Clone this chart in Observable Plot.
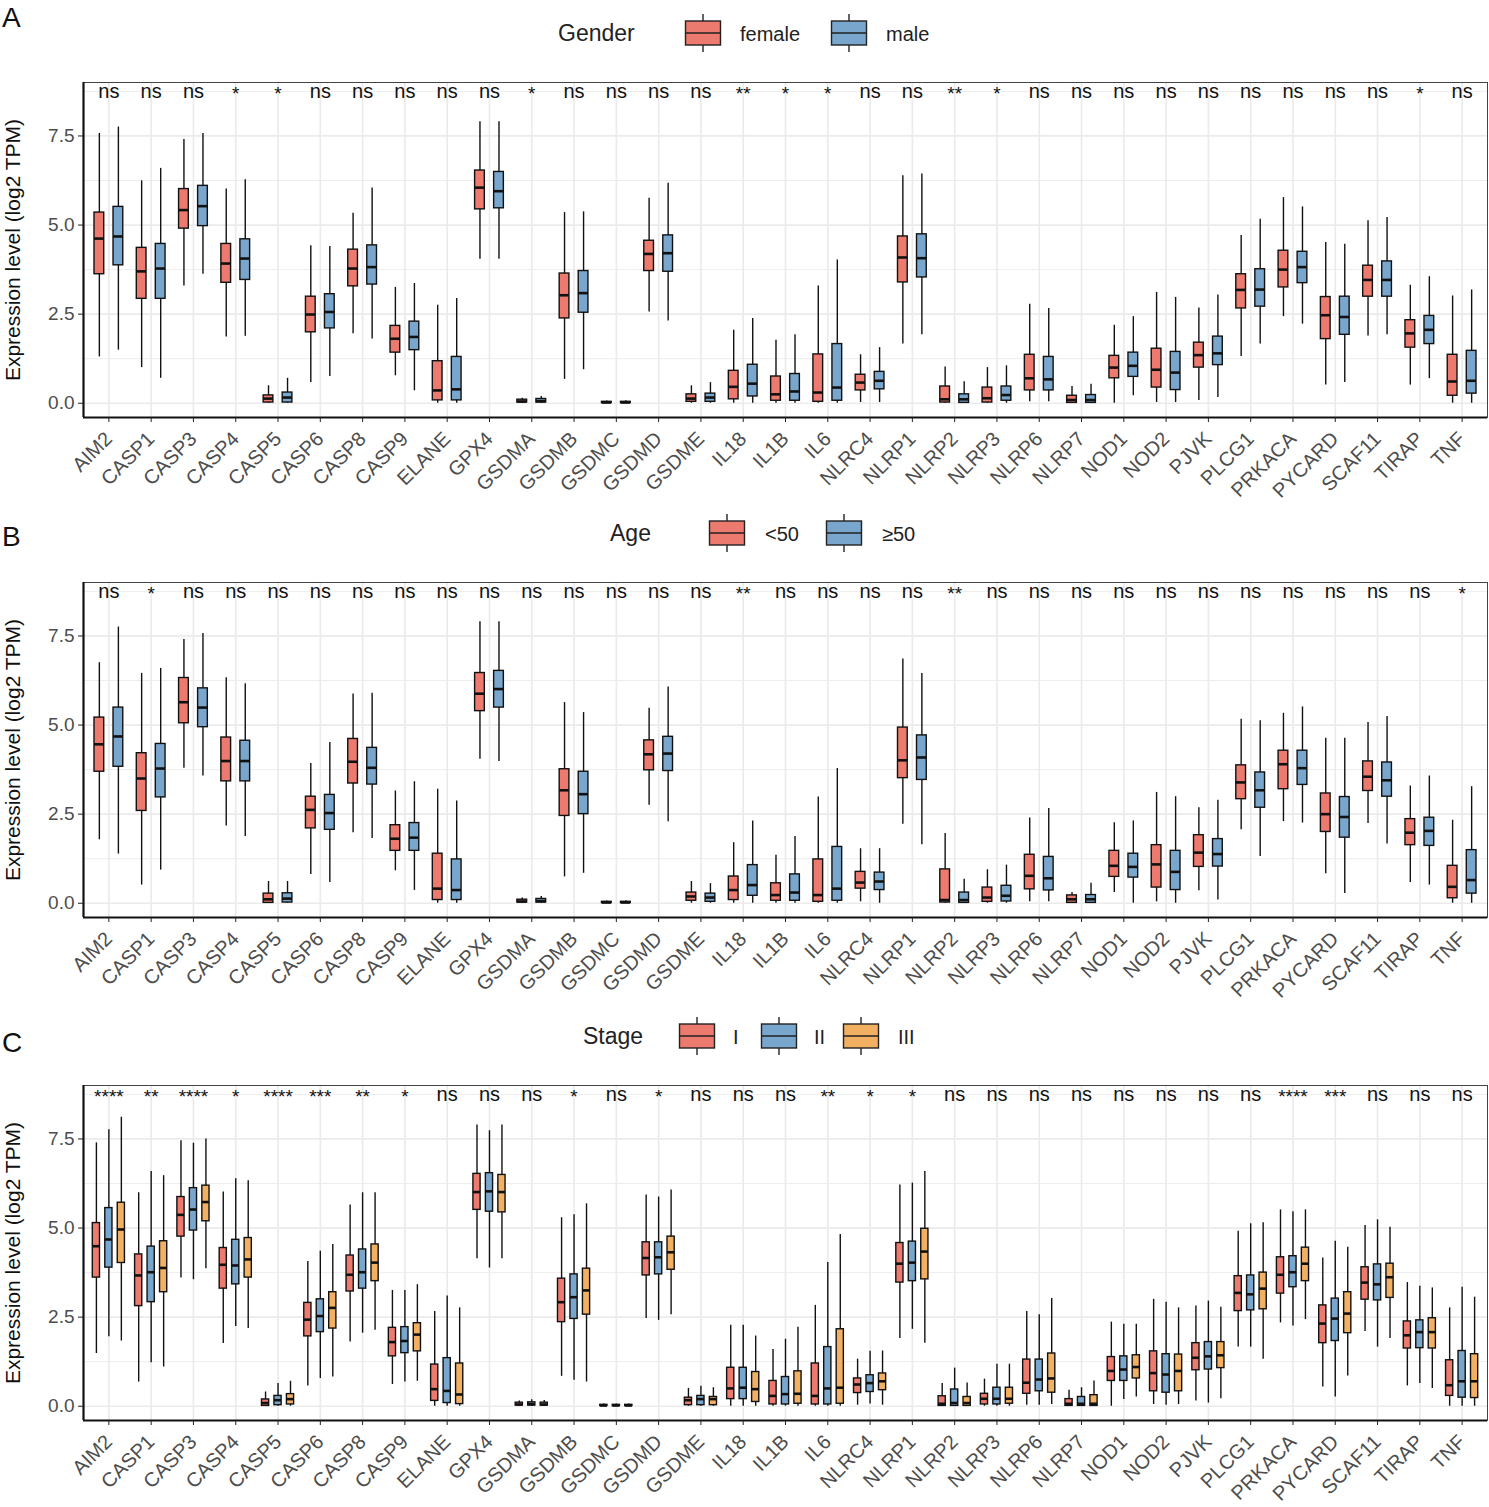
<!DOCTYPE html>
<html><head><meta charset="utf-8">
<script src="https://cdn.jsdelivr.net/npm/d3@7"></script>
<script src="https://cdn.jsdelivr.net/npm/@observablehq/plot@0.6"></script>
<style>
body{margin:0;background:#fff;font-family:"Liberation Sans",Arial,sans-serif;}
#root{position:relative;width:1489px;height:1507px;overflow:hidden;background:#fff}
.letter{position:absolute;left:2px;font-size:28px;line-height:30px;height:30px;color:#111}
.legtitle{position:absolute;font-size:23px;line-height:30px;height:30px;color:#222}
.leglab{position:absolute;font-size:20px;line-height:30px;height:30px;color:#222}
.legkey{position:absolute}
.plotwrap{position:absolute;left:0}
.plotwrap g[aria-label="x-axis tick label"],.plotwrap g[aria-label="y-axis tick label"]{fill:#4d4d4d}
.plotwrap g[aria-label="x-axis tick"],.plotwrap g[aria-label="y-axis tick"]{stroke:#222}
.plotwrap g[aria-label="y-axis label"]{font-size:21px;fill:#111}
</style>
</head><body><div id="root"></div>
<script>
const genes = ["AIM2","CASP1","CASP3","CASP4","CASP5","CASP6","CASP8","CASP9","ELANE","GPX4","GSDMA","GSDMB","GSDMC","GSDMD","GSDME","IL18","IL1B","IL6","NLRC4","NLRP1","NLRP2","NLRP3","NLRP6","NLRP7","NOD1","NOD2","PJVK","PLCG1","PRKACA","PYCARD","SCAF11","TIRAP","TNF"];

const sigGender = ["ns","ns","ns","*","*","ns","ns","ns","ns","ns","*","ns","ns","ns","ns","**","*","*","ns","ns","**","*","ns","ns","ns","ns","ns","ns","ns","ns","ns","*","ns"];
const sigAge = ["ns","*","ns","ns","ns","ns","ns","ns","ns","ns","ns","ns","ns","ns","ns","**","ns","ns","ns","ns","**","ns","ns","ns","ns","ns","ns","ns","ns","ns","ns","ns","*"];
const sigStage = ["****","**","****","*","****","***","**","*","ns","ns","ns","*","ns","*","ns","ns","ns","**","*","*","ns","ns","ns","ns","ns","ns","ns","ns","****","***","ns","ns","ns"];

// [lower whisker, Q1, median, Q3, upper whisker] per gene
const female = [[1.30,3.62,4.62,5.35,7.57],[1.00,2.93,3.70,4.36,6.24],[3.29,4.90,5.42,6.01,7.40],[1.86,3.38,3.92,4.47,6.01],[0,0.02,0.13,0.22,0.49],[0.58,1.99,2.49,2.99,4.42],[1.95,3.28,3.78,4.31,5.33],[0.77,1.42,1.81,2.17,3.25],[0,0.08,0.36,1.18,2.75],[4.04,5.44,6.05,6.53,7.90],[0,0.02,0.05,0.10,0.14],[0.67,2.38,3.03,3.64,5.35],[0,0.01,0.02,0.04,0.06],[2.56,3.71,4.19,4.56,5.75],[0,0.04,0.13,0.25,0.49],[0,0.11,0.46,0.91,2.05],[0,0.07,0.25,0.75,1.77],[0,0.04,0.30,1.37,3.29],[0.02,0.36,0.58,0.80,1.36],[1.66,3.39,4.09,4.68,6.38],[0,0.02,0.11,0.47,1.02],[0,0.02,0.14,0.44,1.00],[0.04,0.36,0.70,1.36,2.78],[0,0.01,0.09,0.21,0.47],[0,0.70,1.00,1.33,2.19],[0.02,0.44,0.94,1.53,3.11],[0.08,1.00,1.35,1.70,2.67],[1.31,2.66,3.18,3.62,4.71],[2.43,3.25,3.75,4.28,5.77],[0.51,1.80,2.47,2.98,4.51],[1.89,2.99,3.46,3.86,5.12],[0.51,1.56,1.96,2.33,3.31],[0,0.21,0.61,1.36,3.01]];
const male = [[1.49,3.87,4.68,5.51,7.75],[0.70,2.93,3.78,4.47,6.59],[3.62,4.97,5.53,6.10,7.57],[1.88,3.46,4.06,4.60,6.27],[0,0.02,0.16,0.30,0.70],[0.75,2.10,2.56,3.06,4.40],[1.80,3.33,3.82,4.43,6.04],[0.35,1.49,1.86,2.29,3.36],[0,0.08,0.39,1.30,2.94],[4.04,5.47,5.95,6.49,7.90],[0,0.02,0.06,0.12,0.19],[0.94,2.54,3.09,3.71,5.37],[0,0.01,0.02,0.04,0.07],[2.31,3.69,4.21,4.71,6.17],[0,0.04,0.16,0.27,0.58],[0,0.19,0.55,1.08,2.38],[0,0.07,0.33,0.82,1.92],[0,0.07,0.44,1.66,4.02],[0.02,0.39,0.63,0.88,1.56],[1.92,3.53,4.07,4.74,6.43],[0,0.01,0.11,0.25,0.60],[0,0.07,0.23,0.47,1.05],[0.04,0.36,0.67,1.30,2.66],[0,0.01,0.09,0.23,0.53],[0.21,0.74,1.05,1.42,2.43],[0.02,0.37,0.86,1.44,2.97],[0.16,1.07,1.40,1.87,3.04],[1.66,2.71,3.19,3.76,5.16],[2.22,3.37,3.82,4.25,5.51],[0.58,1.92,2.42,2.99,4.46],[1.92,2.99,3.46,3.98,5.21],[0.69,1.66,2.06,2.45,3.55],[0,0.27,0.63,1.47,3.18]];
const under50 = [[1.78,3.69,4.46,5.21,6.75],[0.51,2.59,3.50,4.21,6.45],[3.79,5.05,5.64,6.32,7.40],[2.17,3.42,3.99,4.65,6.33],[0,0.01,0.11,0.27,0.61],[0.81,2.10,2.62,2.99,3.92],[1.98,3.36,3.97,4.61,5.87],[0.91,1.47,1.81,2.19,3.15],[0,0.09,0.41,1.39,3.20],[4.04,5.39,5.88,6.46,7.90],[0,0.02,0.05,0.10,0.15],[0.74,2.45,3.17,3.76,5.63],[0,0.01,0.02,0.04,0.06],[2.75,3.73,4.18,4.57,5.47],[0,0.07,0.19,0.30,0.61],[0,0.09,0.37,0.75,1.70],[0,0.07,0.23,0.56,1.35],[0,0.04,0.23,1.23,2.98],[0.04,0.41,0.58,0.88,1.53],[2.22,3.51,4.01,4.93,6.85],[0,0.02,0.09,0.95,1.96],[0,0.04,0.16,0.44,0.94],[0.04,0.39,0.77,1.36,2.39],[0,0.01,0.11,0.22,0.30],[0.30,0.74,1.05,1.47,2.26],[0.04,0.44,1.09,1.63,3.11],[0.35,1.02,1.42,1.91,2.68],[2.06,2.92,3.39,3.87,5.16],[2.29,3.20,3.90,4.28,5.33],[0.83,2.00,2.50,3.08,4.63],[2.24,3.15,3.55,3.98,5.07],[0.58,1.63,1.98,2.36,3.29],[0,0.14,0.46,1.05,2.33]];
const over50 = [[1.38,3.83,4.68,5.49,7.75],[0.93,2.97,3.78,4.47,6.59],[3.57,4.94,5.49,6.03,7.57],[1.87,3.42,3.99,4.56,6.16],[0,0.02,0.13,0.28,0.61],[0.58,2.06,2.53,3.04,4.51],[1.82,3.33,3.80,4.36,5.89],[0.36,1.47,1.84,2.25,3.41],[0,0.09,0.37,1.23,2.87],[3.98,5.49,6.01,6.52,7.90],[0,0.02,0.06,0.12,0.19],[0.84,2.50,3.06,3.69,5.35],[0,0.01,0.02,0.04,0.07],[2.29,3.71,4.20,4.67,6.07],[0,0.04,0.16,0.27,0.55],[0,0.21,0.51,1.07,2.31],[0,0.07,0.30,0.81,1.87],[0,0.07,0.41,1.58,3.78],[0,0.37,0.61,0.86,1.53],[1.64,3.46,4.09,4.71,6.45],[0,0.01,0.09,0.30,0.67],[0,0.05,0.21,0.49,1.07],[0.04,0.36,0.70,1.30,2.66],[0,0.01,0.11,0.23,0.56],[0,0.72,1.02,1.39,2.31],[0,0.37,0.88,1.47,2.99],[0.09,1.03,1.38,1.80,2.89],[1.31,2.68,3.17,3.67,5.12],[2.25,3.32,3.79,4.28,5.51],[0.27,1.84,2.42,2.98,4.63],[1.66,2.99,3.45,3.95,5.24],[0.51,1.61,2.03,2.40,3.57],[0,0.27,0.65,1.49,3.27]];
const stageI = [[1.48,3.61,4.49,5.14,7.39],[0.68,2.81,3.67,4.26,5.99],[3.60,4.76,5.37,5.87,7.45],[1.76,3.30,3.97,4.44,6.01],[0,0.01,0.09,0.19,0.40],[0.57,1.96,2.43,2.90,4.06],[1.80,3.22,3.69,4.23,5.65],[0.61,1.40,1.80,2.20,3.25],[0,0.15,0.48,1.17,2.66],[4.14,5.51,6.01,6.52,7.89],[0,0.02,0.05,0.10,0.15],[0.84,2.36,2.92,3.58,5.29],[0,0.01,0.02,0.04,0.06],[2.46,3.67,4.16,4.60,5.93],[0,0.03,0.17,0.24,0.50],[0,0.20,0.50,1.08,2.27],[0,0.05,0.29,0.71,1.59],[0,0.05,0.29,1.20,2.83],[0.03,0.37,0.61,0.78,1.32],[1.90,3.47,4.00,4.58,6.21],[0,0.01,0.07,0.28,0.64],[0,0.05,0.21,0.35,0.76],[0.03,0.35,0.66,1.31,2.66],[0,0.01,0.07,0.20,0.45],[0,0.71,0.99,1.38,2.36],[0.05,0.42,0.93,1.54,3.00],[0.15,1.01,1.36,1.77,2.81],[1.66,2.67,3.18,3.65,4.91],[2.34,3.16,3.69,4.18,5.51],[0.54,1.77,2.32,2.83,4.16],[2.10,2.99,3.47,3.90,5.07],[0.57,1.62,1.99,2.38,3.47],[0,0.29,0.59,1.29,2.76]];
const stageII = [[1.95,3.89,4.68,5.56,7.76],[1.22,2.92,3.76,4.48,6.59],[3.55,4.93,5.52,6.12,7.38],[2.24,3.42,3.95,4.67,6.38],[0,0.03,0.17,0.29,0.64],[0.78,2.08,2.53,3.00,4.35],[2.05,3.30,3.76,4.40,5.99],[0.68,1.49,1.83,2.22,3.25],[0,0.09,0.43,1.35,3.09],[3.88,5.46,6.03,6.54,7.73],[0,0.02,0.06,0.11,0.18],[0.73,2.45,3.06,3.70,5.37],[0,0.01,0.02,0.04,0.06],[2.41,3.70,4.18,4.60,5.87],[0,0.03,0.20,0.29,0.56],[0,0.20,0.52,1.08,2.27],[0,0.05,0.34,0.82,1.88],[0,0.05,0.50,1.66,4.03],[0.06,0.40,0.65,0.87,1.54],[2.16,3.51,4.03,4.62,6.26],[0,0.01,0.09,0.47,1.07],[0,0.05,0.21,0.52,1.18],[0.03,0.42,0.75,1.31,2.57],[0,0.01,0.07,0.26,0.52],[0.19,0.71,1.03,1.40,2.30],[0.03,0.38,0.89,1.46,2.92],[0.09,1.03,1.40,1.80,2.95],[1.66,2.69,3.14,3.67,5.12],[2.25,3.34,3.76,4.21,5.46],[0.26,1.83,2.46,3.02,4.63],[1.66,2.97,3.42,3.98,5.23],[0.64,1.63,2.08,2.41,3.37],[0,0.24,0.70,1.55,3.34]];
const stageIII = [[1.83,4.02,4.96,5.71,8.11],[1.10,3.20,3.88,4.63,6.47],[3.86,5.19,5.73,6.19,7.50],[2.18,3.61,4.12,4.72,6.33],[0,0.05,0.20,0.34,0.70],[0.82,2.18,2.76,3.20,4.54],[2.13,3.51,4.03,4.54,5.99],[0.70,1.54,2.01,2.33,3.41],[0,0.06,0.33,1.20,2.76],[4.14,5.44,6.01,6.49,7.89],[0,0.02,0.05,0.10,0.16],[0.68,2.57,3.25,3.86,5.68],[0,0.01,0.02,0.04,0.06],[2.57,3.83,4.32,4.76,6.07],[0,0.03,0.20,0.26,0.52],[0,0.12,0.48,0.96,1.97],[0,0.07,0.35,0.98,2.22],[0,0.07,0.52,2.16,4.82],[0.03,0.45,0.70,0.92,1.55],[1.77,3.56,4.34,4.98,6.59],[0,0.01,0.09,0.26,0.65],[0,0.07,0.21,0.52,1.18],[0.05,0.38,0.78,1.48,3.02],[0,0.01,0.07,0.31,0.71],[0.26,0.78,1.10,1.43,2.30],[0.05,0.42,0.99,1.45,2.76],[0.21,1.07,1.43,1.80,2.78],[1.32,2.72,3.30,3.75,5.15],[2.43,3.51,4.00,4.45,5.51],[0.85,2.05,2.60,3.20,4.46],[1.90,3.04,3.62,4.00,5.02],[0.50,1.62,2.08,2.47,3.32],[0,0.23,0.70,1.46,3.06]];

const palette = ["#EC7A6E","#79A6CC","#F2B063"];
const yMajor = [0, 2.5, 5, 7.5];
const yMinor = [1.25, 3.75, 6.25, 8.75];
const yDomain = [-0.4, 9.0];
const sigY = 8.75;
const xDomain = [-0.6, genes.length - 0.4];

const root = document.getElementById("root");

function boxPanel({groups, series, sig, step, hw, top}) {
  const n = groups.length;
  const recs = [];
  groups.forEach((g, k) => series[k].forEach((v, i) => recs.push({
    gene: genes[i], group: g, x: i + (k - (n - 1) / 2) * step,
    lo: v[0], q1: v[1], med: v[2], q3: v[3], hi: v[4]
  })));
  const labs = sig.map((s, i) => ({i, s}));
  const plot = Plot.plot({
    width: 1489, height: 435,
    marginLeft: 83, marginRight: 2, marginTop: 10, marginBottom: 90,
    style: {fontFamily: '"Liberation Sans", Arial, sans-serif', background: "white", color: "#111"},
    x: {domain: xDomain},
    y: {domain: yDomain},
    color: {domain: groups, range: palette.slice(0, n)},
    marks: [
      Plot.ruleY(yMinor, {stroke: "#ebebeb", strokeWidth: 0.9}),
      Plot.ruleY(yMajor, {stroke: "#ebebeb", strokeWidth: 1.7}),
      Plot.ruleX(d3.range(genes.length), {stroke: "#ebebeb", strokeWidth: 1.7}),
      Plot.frame({stroke: "#444", strokeWidth: 1}),
      Plot.ruleX(recs, {x: "x", y1: "lo", y2: "hi", stroke: "#111", strokeWidth: 1.4}),
      Plot.rect(recs, {x1: d => d.x - hw, x2: d => d.x + hw, y1: "q1", y2: "q3", fill: "group", stroke: "#111", strokeWidth: 1.4}),
      Plot.ruleY(recs, {y: "med", x1: d => d.x - hw, x2: d => d.x + hw, stroke: "#111", strokeWidth: 2.6}),
      Plot.ruleY([yDomain[0]], {stroke: "#111", strokeWidth: 2.2}),
      Plot.ruleX([xDomain[0]], {stroke: "#111", strokeWidth: 2.2}),
      Plot.axisX(d3.range(genes.length), {tickFormat: i => genes[i], tickRotate: -45, fontSize: 20, tickSize: 5, tickPadding: 13, label: null}),
      Plot.axisY(yMajor, {tickFormat: d3.format(".1f"), fontSize: 19, tickSize: 5, tickPadding: 4, label: "Expression level (log2 TPM)", labelAnchor: "center", labelArrow: "none", labelOffset: 78}),
      Plot.text(labs.filter(d => d.s === "ns"), {x: "i", y: () => sigY, text: "s", fontSize: 20, fill: "#111"}),
      Plot.text(labs.filter(d => d.s !== "ns"), {x: "i", y: () => sigY, text: "s", fontSize: 19, dy: 2, fill: "#111"})
    ]
  });
  const wrap = document.createElement("div");
  wrap.className = "plotwrap";
  wrap.style.top = top + "px";
  wrap.appendChild(plot);
  root.appendChild(wrap);
}

function keySvg(color) {
  const ns = "http://www.w3.org/2000/svg";
  const svg = document.createElementNS(ns, "svg");
  svg.setAttribute("width", 38); svg.setAttribute("height", 40);
  svg.innerHTML = `<line x1="19" x2="19" y1="1" y2="8" stroke="#222" stroke-width="1.4"/>
    <rect x="1.5" y="8" width="35" height="24" fill="${color}" stroke="#222" stroke-width="1.4"/>
    <line x1="1.5" x2="36.5" y1="20" y2="20" stroke="#222" stroke-width="1.4"/>
    <line x1="19" x2="19" y1="32" y2="39" stroke="#222" stroke-width="1.4"/>`;
  return svg;
}

function legend({letter, letterY, title, titleX, cy, items}) {
  const L = document.createElement("div");
  L.className = "letter"; L.textContent = letter; L.style.top = (letterY - 15) + "px";
  root.appendChild(L);
  const T = document.createElement("div");
  T.className = "legtitle"; T.textContent = title; T.style.left = titleX + "px"; T.style.top = (cy - 15) + "px";
  root.appendChild(T);
  items.forEach((it, k) => {
    const K = document.createElement("div");
    K.className = "legkey"; K.style.left = it.keyX + "px"; K.style.top = (cy - 20) + "px";
    K.appendChild(keySvg(palette[k]));
    root.appendChild(K);
    const t = document.createElement("div");
    t.className = "leglab"; t.textContent = it.label; t.style.left = it.labelX + "px"; t.style.top = (cy - 14) + "px";
    root.appendChild(t);
  });
}

legend({letter: "A", letterY: 18, title: "Gender", titleX: 558, cy: 33,
  items: [{label: "female", keyX: 684, labelX: 740}, {label: "male", keyX: 830, labelX: 886}]});
boxPanel({groups: ["female", "male"], series: [female, male], sig: sigGender, step: 0.45, hw: 0.115, top: 72});

legend({letter: "B", letterY: 537, title: "Age", titleX: 610, cy: 533,
  items: [{label: "<50", keyX: 708, labelX: 765}, {label: "\u226550", keyX: 825, labelX: 882}]});
boxPanel({groups: ["<50", "\u226550"], series: [under50, over50], sig: sigAge, step: 0.45, hw: 0.115, top: 572});

legend({letter: "C", letterY: 1043, title: "Stage", titleX: 583, cy: 1036,
  items: [{label: "I", keyX: 678, labelX: 733}, {label: "II", keyX: 760, labelX: 814}, {label: "III", keyX: 842, labelX: 898}]});
boxPanel({groups: ["I", "II", "III"], series: [stageI, stageII, stageIII], sig: sigStage, step: 0.295, hw: 0.085, top: 1075});
</script>
</body></html>
